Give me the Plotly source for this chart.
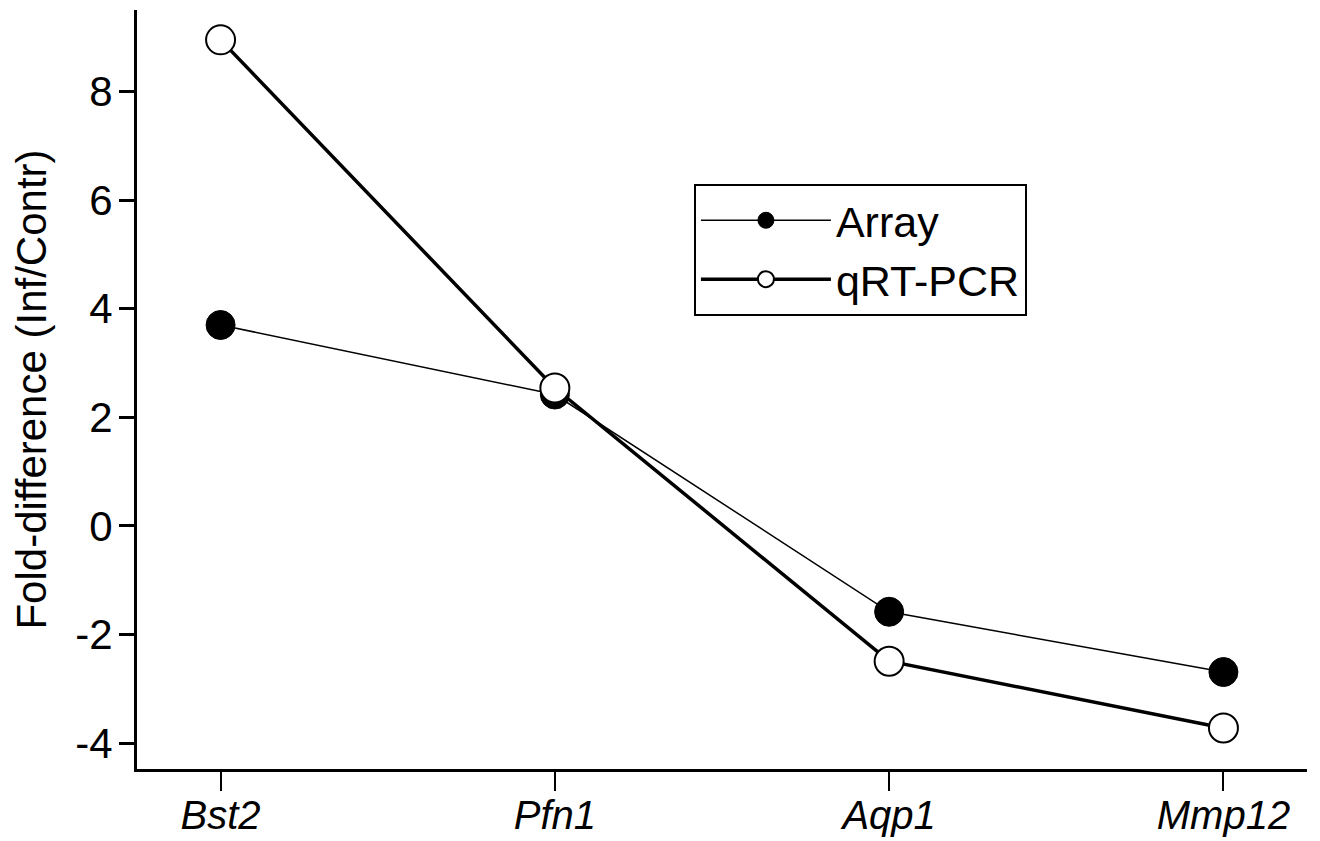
import plotly.graph_objects as go

genes = ["Bst2", "Pfn1", "Aqp1", "Mmp12"]
array_vals = [3.70, 2.42, -1.58, -2.69]
qrt_vals = [8.95, 2.54, -2.49, -3.72]
y_ticks = [-4, -2, 0, 2, 4, 6, 8]
y_tick_text = ["-4", "-2", "0", "2", "4", "6", "8"]

x_idx = list(range(len(genes)))
tick_text = ["<i>%s</i>" % g for g in genes]

fig = go.Figure()
fig.add_trace(go.Scatter(
    x=x_idx, y=array_vals, mode="lines+markers", name="Array",
    line=dict(color="black", width=1.5),
    marker=dict(symbol="circle", size=29, color="black", line=dict(color="black", width=1)),
))
fig.add_trace(go.Scatter(
    x=x_idx, y=qrt_vals, mode="lines+markers", name="qRT-PCR",
    line=dict(color="black", width=3.5),
    marker=dict(symbol="circle", size=29, color="white", line=dict(color="black", width=2)),
))

font = "Liberation Sans, Arial, sans-serif"
fig.update_layout(
    width=1312, height=833,
    margin=dict(l=129, r=13, t=2, b=72),
    paper_bgcolor="white", plot_bgcolor="white",
    font=dict(family=font, size=41, color="black"),
    showlegend=True,
    legend=dict(
        x=0.476, y=0.771, xanchor="left", yanchor="top",
        bordercolor="black", borderwidth=2, bgcolor="white",
        font=dict(size=43), itemwidth=130, tracegroupgap=0,
    ),
    xaxis=dict(
        range=[-0.25, 3.25], tickmode="array", tickvals=x_idx, ticktext=tick_text,
        showline=True, linecolor="black", linewidth=3, ticks="outside",
        ticklen=19, tickwidth=2, tickcolor="black", showgrid=False, zeroline=False,
        tickfont=dict(size=40), automargin=False, ticklabelstandoff=-10,
    ),
    yaxis=dict(
        range=[-4.475, 9.5], tickmode="array", tickvals=y_ticks, ticktext=y_tick_text,
        showline=True, linecolor="black", linewidth=3, ticks="outside",
        ticklen=15, tickwidth=3, tickcolor="black", showgrid=False, zeroline=False,
        tickfont=dict(size=42), ticklabelstandoff=-2, automargin=False,
        title=dict(text="Fold-difference (Inf/Contr)", font=dict(size=42), standoff=21),
    ),
)

fig.write_html("out.html")
